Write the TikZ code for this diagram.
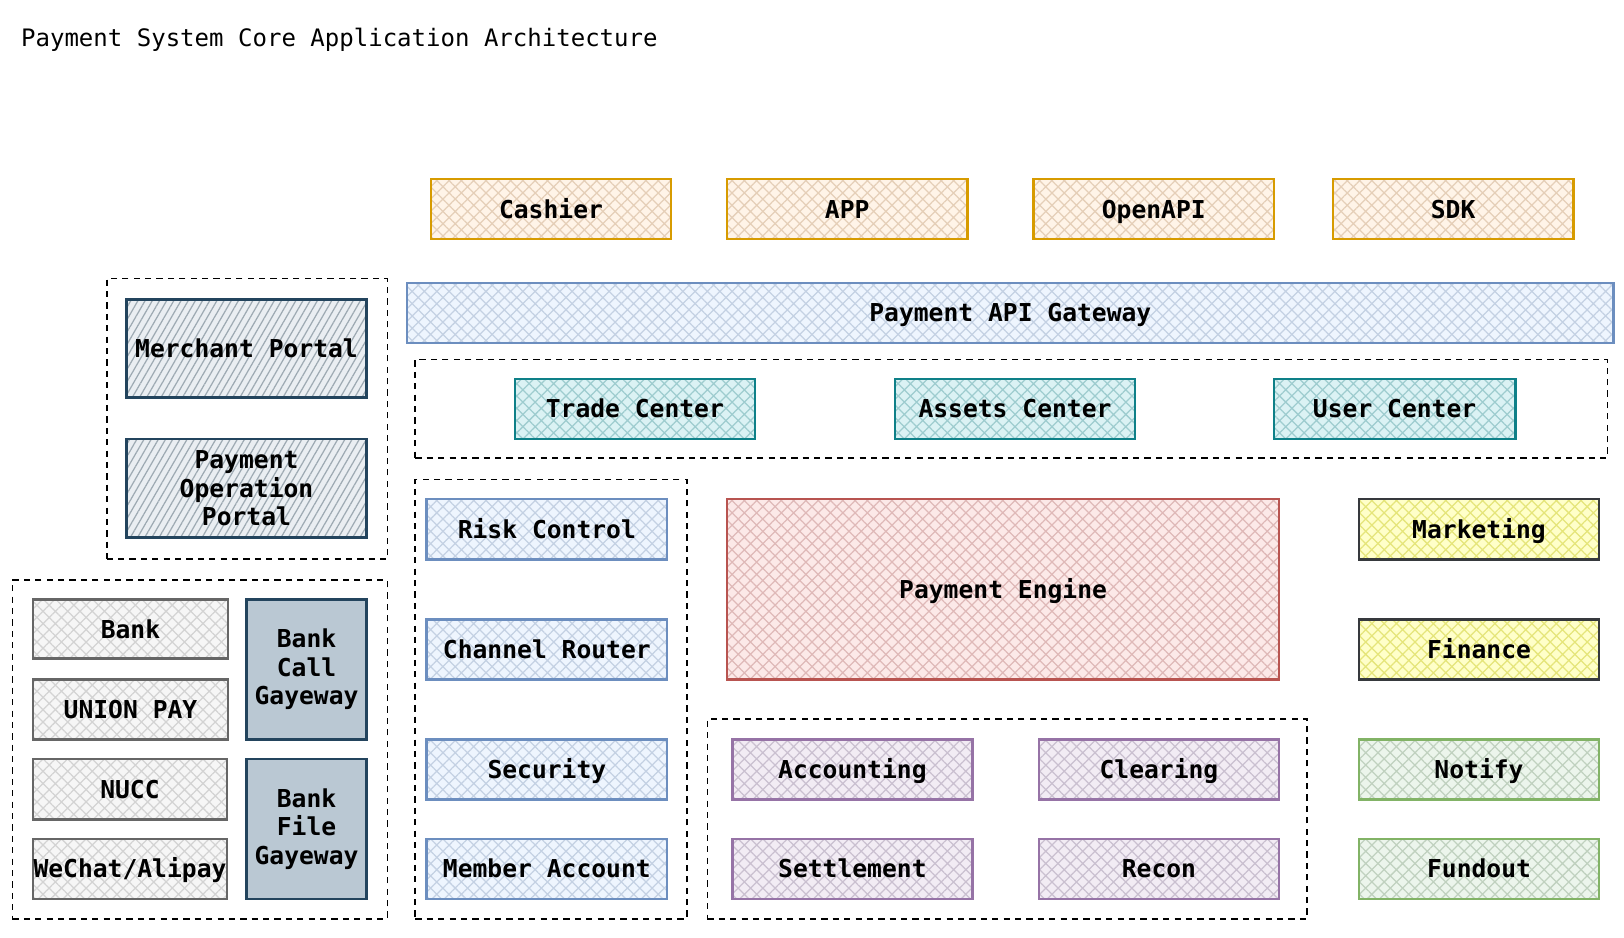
\documentclass[tikz,border=0pt]{standalone}
\usepackage{fontspec}
\setmonofont{DejaVu Sans Mono}
\usetikzlibrary{patterns.meta}
\definecolor{ofill}{HTML}{FFE6CC}\definecolor{ostroke}{HTML}{D79B00}
\definecolor{bfill}{HTML}{DAE8FC}\definecolor{bstroke}{HTML}{6C8EBF}
\definecolor{tfill}{HTML}{B0E3E6}\definecolor{tstroke}{HTML}{0E8088}
\definecolor{rfill}{HTML}{F8CECC}\definecolor{rstroke}{HTML}{B85450}
\definecolor{pfill}{HTML}{E1D5E7}\definecolor{pstroke}{HTML}{9673A6}
\definecolor{yfill}{HTML}{FFFF88}\definecolor{ystroke}{HTML}{36393D}
\definecolor{gfill}{HTML}{D5E8D4}\definecolor{gstroke}{HTML}{82B366}
\definecolor{kfill}{HTML}{EBEBEB}\definecolor{kstroke}{HTML}{666666}
\definecolor{sfill}{HTML}{BAC8D3}\definecolor{sstroke}{HTML}{23445D}
\newcommand\boxfnt{\ttfamily\bfseries\fontsize{11.9}{13.75}\selectfont}
\newcommand\titlefnt{\ttfamily\fontsize{11.6}{13.5}\selectfont}
\newcommand\bx[7]{\node[#1, minimum width={(#5-#3)*0.5pt}, minimum height={(#6-#4)*0.5pt}] (#2) at ({(#3+#5)/2},{(#4+#6)/2}) {#7};}
\tikzset{
  basebox/.style={draw=#1, line width=1.2pt, font=\boxfnt, align=center, inner sep=0pt, text=black},
  oneline/.style={text height=9.5pt, text depth=1pt},
  hbox/.style 2 args={basebox=#1, oneline, preaction={fill=#2!45!white}, pattern={Hatch[angle=45,distance=4.2pt,line width=0.6pt]}, pattern color=#2!90!black},
  obox/.style={hbox={ostroke}{ofill}},
  bbox/.style={hbox={bstroke}{bfill}},
  tbox/.style={hbox={tstroke}{tfill}},
  rbox/.style={hbox={rstroke}{rfill}},
  pbox/.style={hbox={pstroke}{pfill}},
  ybox/.style={hbox={ystroke}{yfill}},
  gbox/.style={hbox={gstroke}{gfill}},
  kbox/.style={hbox={kstroke}{kfill}},
  lbox/.style={basebox=sstroke, preaction={fill=sfill!30!white}, pattern={Lines[angle=60,distance=3pt,line width=0.6pt]}, pattern color=sfill!85!black},
  sbox/.style={basebox=sstroke, fill=sfill},
  group/.style={draw=black, line width=0.8pt, dash pattern=on 3pt off 2.5pt, inner sep=0pt},
}
\begin{document}
\begin{tikzpicture}[x=0.5pt,y=-0.5pt]
\useasboundingbox[fill=white] (0,0) rectangle (1568,905);
\node[anchor=base west, font=\titlefnt, inner sep=0pt] (title) at (20,45) {Payment System Core Application Architecture};
% groups
\bx{group}{gportal}{103}{269}{374}{540}{}
\bx{group}{gbank}{12}{560}{374}{887}{}
\bx{group}{gcenter}{401}{347}{1552}{442}{}
\bx{group}{grisk}{401}{463}{663}{887}{}
\bx{group}{gacc}{683}{694}{1262}{887}{}
% top row
\bx{obox}{cashier}{416}{173}{648}{231}{Cashier}
\bx{obox}{app}{702}{173}{934}{231}{APP}
\bx{obox}{openapi}{998}{173}{1230}{231}{OpenAPI}
\bx{obox}{sdk}{1287}{173}{1519}{231}{SDK}
\bx{bbox}{gateway}{393}{273}{1558}{331}{Payment API Gateway}
% centers
\bx{tbox}{trade}{497}{366}{729}{424}{Trade Center}
\bx{tbox}{assets}{864}{366}{1096}{424}{Assets Center}
\bx{tbox}{user}{1230}{366}{1463}{424}{User Center}
% portals
\bx{lbox,oneline}{merchant}{122}{289}{354}{384}{Merchant Portal}
\bx{lbox}{operation}{122}{424}{354}{519}{Payment\\Operation\\Portal}
% channels
\bx{kbox}{bank}{32}{579}{220}{636}{Bank}
\bx{kbox}{union}{32}{656}{220}{714}{UNION PAY}
\bx{kbox}{nucc}{32}{733}{219}{791}{NUCC}
\bx{kbox}{wechat}{32}{810}{219}{868}{WeChat/Alipay}
\bx{sbox}{bankcall}{238}{579}{354}{714}{Bank\\Call\\Gayeway}
\bx{sbox}{bankfile}{238}{733}{354}{868}{Bank\\File\\Gayeway}
% risk column
\bx{bbox}{risk}{412}{482}{644}{540}{Risk Control}
\bx{bbox}{router}{412}{598}{644}{656}{Channel Router}
\bx{bbox}{security}{412}{714}{644}{772}{Security}
\bx{bbox}{member}{412}{810}{644}{868}{Member Account}
% engine
\bx{rbox}{engine}{702}{482}{1235}{656}{Payment Engine}
\bx{pbox}{accounting}{707}{714}{939}{772}{Accounting}
\bx{pbox}{clearing}{1003}{714}{1235}{772}{Clearing}
\bx{pbox}{settlement}{707}{810}{939}{868}{Settlement}
\bx{pbox}{recon}{1003}{810}{1235}{868}{Recon}
% right column
\bx{ybox}{marketing}{1312}{482}{1544}{540}{Marketing}
\bx{ybox}{finance}{1312}{598}{1544}{656}{Finance}
\bx{gbox}{notify}{1312}{714}{1544}{772}{Notify}
\bx{gbox}{fundout}{1312}{810}{1544}{868}{Fundout}
\end{tikzpicture}
\end{document}
